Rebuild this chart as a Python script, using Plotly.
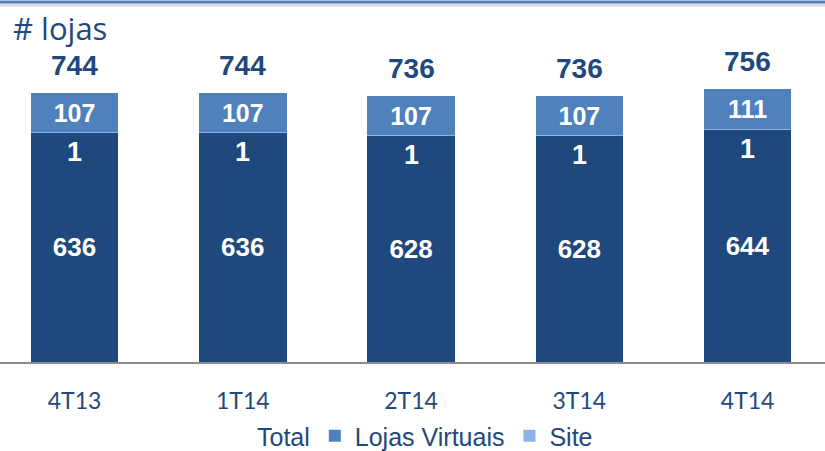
import plotly.graph_objects as go

quarters = ["4T13", "1T14", "2T14", "3T14", "4T14"]
lojas_fisicas = [636, 636, 628, 628, 644]
site = [1, 1, 1, 1, 1]
lojas_virtuais = [107, 107, 107, 107, 111]
total = [744, 744, 736, 736, 756]

dark = "#1F497D"
mid = "#4F81BD"
light = "#8EB4E3"
arial = "Liberation Sans, Arial"
label_font = dict(family=arial, size=26, color="white")

fig = go.Figure()
fig.add_traces(
    go.Bar(
        x=quarters,
        y=lojas_fisicas,
        name="Lojas Físicas",
        marker=dict(color=dark, line=dict(width=0)),
        text=[f"<b>{v}</b>" for v in lojas_fisicas],
        textposition="inside",
        insidetextanchor="middle",
        textangle=0,
        textfont=label_font,
        showlegend=False,
    )
)
fig.add_traces(
    go.Bar(
        x=quarters,
        y=site,
        name="Site",
        marker=dict(color=light, line=dict(width=0)),
        legendrank=3,
    )
)
fig.add_traces(
    go.Bar(
        x=quarters,
        y=lojas_virtuais,
        name="Lojas Virtuais",
        marker=dict(color=mid, line=dict(width=0)),
        text=[f"<b>{v}</b>" for v in lojas_virtuais],
        textposition="inside",
        insidetextanchor="middle",
        textangle=0,
        textfont=dict(family=arial, size=25, color="white"),
        legendrank=2,
    )
)
fig.add_traces(
    go.Scatter(
        x=quarters,
        y=total,
        name="Total",
        mode="lines",
        line=dict(width=0, color="rgba(0,0,0,0)"),
        legendrank=1,
        hoverinfo="skip",
    )
)

# rótulos: total acima da barra e "1" (site) logo abaixo do topo escuro
for q, t, f, s in zip(quarters, total, lojas_fisicas, site):
    fig.add_annotation(
        x=q, y=t, yshift=28, text=f"<b>{t}</b>", showarrow=False,
        font=dict(family=arial, size=28, color=dark),
    )
    fig.add_annotation(
        x=q, y=f + s, yshift=-20, text=f"<b>{s}</b>", showarrow=False,
        font=dict(family=arial, size=27, color="white"),
    )

fig.add_annotation(
    x=0.013, xref="paper", xanchor="left", y=1 - 28 / 362, yref="paper",
    yanchor="middle", text="# lojas", showarrow=False,
    font=dict(family="Open Sans", size=31, color=dark),
)

# linha azul no topo
fig.add_shape(type="line", xref="paper", yref="paper", x0=0, x1=1,
              y0=1 - 5 / 362, y1=1 - 5 / 362,
              line=dict(color="rgba(0,0,0,0.15)", width=3))
fig.add_shape(type="line", xref="paper", yref="paper", x0=0, x1=1,
              y0=1 - 2 / 362, y1=1 - 2 / 362,
              line=dict(color=mid, width=3))

fig.update_layout(
    width=825,
    height=451,
    barmode="stack",
    bargap=0.48,
    plot_bgcolor="white",
    paper_bgcolor="white",
    margin=dict(l=0, r=0, t=0, b=89, autoexpand=False),
    showlegend=True,
    legend=dict(
        orientation="h",
        x=217 / 825,
        xanchor="left",
        y=-74 / 362,
        yanchor="middle",
        traceorder="normal",
        font=dict(family=arial, size=25, color=dark),
        itemwidth=30,
    ),
)
fig.update_xaxes(
    range=[-0.443, 4.46],
    showline=True,
    linecolor="#8C8C8C",
    linewidth=2,
    ticks="",
    ticklabelstandoff=17,
    tickfont=dict(family="Lato, Open Sans", size=23, color=dark),
)
fig.update_yaxes(range=[0, 1003], visible=False)

fig.write_html(
    "out.html",
    config={"displayModeBar": False},
    post_script="document.body.style.margin='0';",
)
